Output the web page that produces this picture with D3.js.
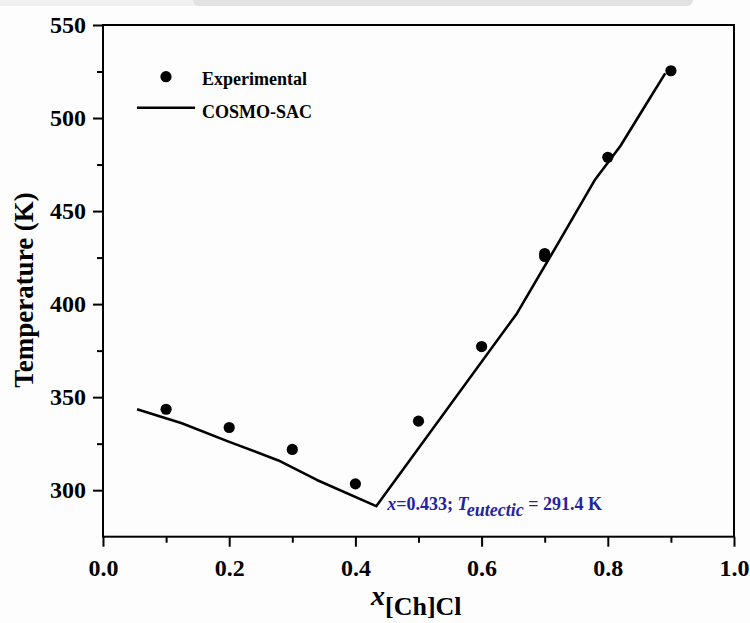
<!DOCTYPE html>
<html>
<head>
<meta charset="utf-8">
<script src="https://cdn.jsdelivr.net/npm/d3@7"></script>
<style>
  html, body { margin: 0; padding: 0; background: #fdfdfd; }
  svg { display: block; }
  text { font-family: "Liberation Serif", "Times New Roman", serif; font-weight: bold; }
</style>
</head>
<body>
<svg id="chart" width="750" height="623"></svg>
<script>
// Experimental solid–liquid equilibrium points
const expX = [0.1, 0.2, 0.3, 0.4, 0.5, 0.6, 0.7, 0.7, 0.8, 0.9];
const expT = [343.5, 333.7, 321.9, 303.4, 337.1, 377.2, 427.2, 425.6, 478.9, 525.4];

// COSMO-SAC predicted liquidus
const modelX = [0.054, 0.125, 0.196, 0.278, 0.339, 0.433, 0.656, 0.72, 0.78, 0.82, 0.86, 0.891];
const modelT = [343.5, 336.0, 326.5, 316.0, 305.5, 291.4, 395.0, 432.0, 467.0, 485.0, 507.0, 524.0];

// Eutectic point
const eutX = 0.433;
const eutT = 291.4;

// Axis ticks
const xMajor = [0.0, 0.2, 0.4, 0.6, 0.8, 1.0];
const xMinor = [0.1, 0.3, 0.5, 0.7, 0.9];
const yMajor = [300, 350, 400, 450, 500, 550];
const yMinor = [325, 375, 425, 475, 525];

const svg = d3.select("#chart");

// faint strip along the top edge
svg.append("rect").attr("x", 0).attr("y", 0).attr("width", 200).attr("height", 6).attr("fill", "#f1f1f1");
svg.append("rect").attr("x", 193).attr("y", -6).attr("width", 500).attr("height", 12)
  .attr("rx", 6).attr("fill", "#e2e2e2");

const x = d3.scaleLinear().domain([0, 1]).range([103, 734]);
const y = d3.scaleLinear().domain([275, 550]).range([536.7, 25]);

// Frame
svg.append("rect")
  .attr("x", x(0)).attr("y", y(550))
  .attr("width", x(1) - x(0)).attr("height", y(275) - y(550))
  .attr("fill", "none").attr("stroke", "#000").attr("stroke-width", 2);

// Bottom axis
const xAxis = svg.append("g").attr("transform", `translate(0,${y(275)})`);
xAxis.call(d3.axisBottom(x).tickValues(xMajor).tickSize(10).tickPadding(12)
  .tickFormat(d3.format(".1f")));
xAxis.append("g").call(d3.axisBottom(x).tickValues(xMinor).tickSize(6).tickFormat(""));
xAxis.selectAll(".domain").remove();
xAxis.selectAll("line").attr("stroke", "#000").attr("stroke-width", 2);
xAxis.selectAll("text").attr("font-size", 24).attr("fill", "#000")
  .attr("font-family", "Liberation Serif, serif").attr("font-weight", "bold");

// Left axis
const yAxis = svg.append("g").attr("transform", `translate(${x(0)},0)`);
yAxis.call(d3.axisLeft(y).tickValues(yMajor).tickSize(10).tickPadding(7));
yAxis.append("g").call(d3.axisLeft(y).tickValues(yMinor).tickSize(6).tickFormat(""));
yAxis.selectAll(".domain").remove();
yAxis.selectAll("line").attr("stroke", "#000").attr("stroke-width", 2);
yAxis.selectAll("text").attr("font-size", 24).attr("fill", "#000")
  .attr("font-family", "Liberation Serif, serif").attr("font-weight", "bold");

// Axis titles
svg.append("text")
  .attr("transform", `translate(33,${290}) rotate(-90)`)
  .attr("text-anchor", "middle")
  .attr("font-size", 27)
  .text("Temperature (K)");

const xt = svg.append("text").attr("x", 371).attr("y", 605).attr("font-size", 28);
xt.append("tspan").attr("font-style", "italic").attr("font-weight", "bold").text("x");
xt.append("tspan").attr("dy", 10).attr("font-size", 26).text("[Ch]Cl");

// Model curve
const line = d3.line().x(d => x(d[0])).y(d => y(d[1]));
svg.append("path")
  .datum(d3.zip(modelX, modelT))
  .attr("d", line)
  .attr("fill", "none")
  .attr("stroke", "#000")
  .attr("stroke-width", 2.6)
  .attr("stroke-linejoin", "round");

// Experimental points
svg.append("g").selectAll("circle")
  .data(d3.zip(expX, expT))
  .join("circle")
  .attr("cx", d => x(d[0]))
  .attr("cy", d => y(d[1]))
  .attr("r", 5.6)
  .attr("fill", "#000");

// Eutectic annotation
const ann = svg.append("text")
  .attr("x", x(eutX) + 11)
  .attr("y", y(eutT) + 4)
  .attr("font-size", 18)
  .attr("fill", "#2323a3");
ann.append("tspan").attr("font-style", "italic").text("x");
ann.append("tspan").text(`=${eutX}; `);
ann.append("tspan").attr("font-style", "italic").text("T");
ann.append("tspan").attr("font-style", "italic").attr("dy", 6).attr("font-size", 18).text("eutectic");
ann.append("tspan").attr("dy", -6).text(` = ${eutT} K`);

// Legend
const lg = svg.append("g");
lg.append("circle").attr("cx", 166).attr("cy", 76.7).attr("r", 5.6).attr("fill", "#000");
lg.append("text").attr("x", 202).attr("y", 85).attr("font-size", 18).text("Experimental");
lg.append("line").attr("x1", 137).attr("x2", 195).attr("y1", 107.7).attr("y2", 107.7)
  .attr("stroke", "#000").attr("stroke-width", 2.6);
lg.append("text").attr("x", 202).attr("y", 117.7).attr("font-size", 18).text("COSMO-SAC");
</script>
</body>
</html>
